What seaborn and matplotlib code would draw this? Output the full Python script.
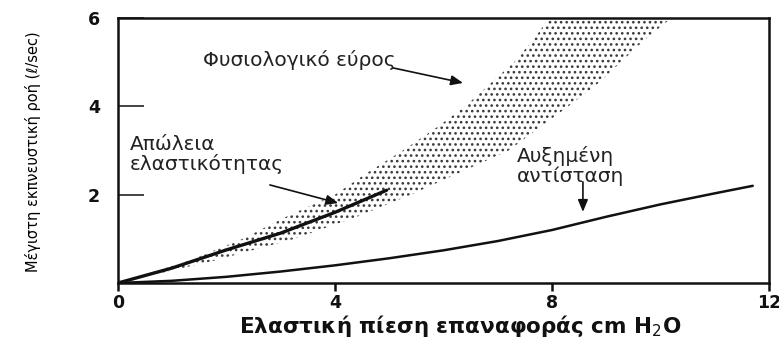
import matplotlib
matplotlib.use("Agg")
import matplotlib.pyplot as plt
import seaborn as sns
import pandas as pd

# Physiological range band: left and right edges (x) at each flow level (y)
band_y = [0, 0.5, 1.0, 1.5, 2.0, 2.5, 3.0, 3.5, 4.0, 4.5, 5.0, 5.5, 6.0]
band_left_x = [0, 1.3, 2.3, 3.1, 4.0, 4.6, 5.25, 5.85, 6.4, 6.85, 7.3, 7.65, 7.95]
band_right_x = [0, 1.75, 3.25, 4.4, 5.4, 6.3, 7.2, 7.75, 8.3, 8.83, 9.27, 9.7, 10.2]

# Loss of elasticity curve
elastic_x = [0, 1, 2, 3, 4, 4.95]
elastic_y = [0, 0.34, 0.75, 1.13, 1.6, 2.1]

# Increased resistance curve
resist_x = [0, 1, 2, 3, 4, 5, 6, 7, 8, 9, 10, 11, 11.7]
resist_y = [0, 0.05, 0.14, 0.26, 0.4, 0.56, 0.74, 0.95, 1.2, 1.5, 1.78, 2.03, 2.2]

x_ticks = [0, 4, 8, 12]
y_ticks = [2, 4, 6]

sns.set_theme(style="white")
plt.rcParams["font.family"] = ["DejaVu Sans"]
plt.rcParams["hatch.linewidth"] = 1.1

fig = plt.figure(figsize=(7.79, 3.40), dpi=100)
ax = fig.add_axes([118 / 779, 57 / 340, 651 / 779, 265 / 340])

ink = "#111111"

# dotted band
ax.fill_betweenx(band_y, band_left_x, band_right_x, facecolor="none",
                 edgecolor="#3a3a3a", hatch="...", linewidth=0)

elastic = pd.DataFrame({"x": elastic_x, "y": elastic_y})
resist = pd.DataFrame({"x": resist_x, "y": resist_y})
sns.lineplot(data=elastic, x="x", y="y", ax=ax, color=ink, linewidth=2.4)
sns.lineplot(data=resist, x="x", y="y", ax=ax, color=ink, linewidth=1.8)

ax.set_xlim(0, 12)
ax.set_ylim(0, 6)
ax.set_xticks(x_ticks)
ax.set_xticklabels([str(v) for v in x_ticks])
ax.set_yticks(y_ticks)
ax.set_yticklabels([str(v) for v in y_ticks])

for side in ["left", "right", "top", "bottom"]:
    ax.spines[side].set_color(ink)
    ax.spines[side].set_linewidth(1.8)
    ax.spines[side].set_visible(True)

ax.tick_params(axis="x", direction="out", length=6, width=1.8, color=ink,
               pad=2, labelsize=12.5, labelcolor=ink, bottom=True)
ax.tick_params(axis="y", direction="in", length=19, width=1.1, color=ink,
               pad=13, labelsize=12.5, labelcolor=ink, left=True)
for lbl in ax.get_xticklabels() + ax.get_yticklabels():
    lbl.set_fontweight("bold")

ax.set_xlabel("Ελαστική πίεση επαναφοράς cm H$_2$O", fontsize=15.5,
              fontweight="bold", color=ink)
ax.xaxis.set_label_coords(0.525, -0.115)
ax.set_ylabel("Μέγιστη εκπνευστική ροή (ℓ/sec)", fontsize=10.5,
              family=["DejaVu Sans"], color="#000000")
ax.yaxis.set_label_coords(-0.118, 0.494)

txt_kw = dict(fontsize=14.5, color="#222222", linespacing=1.0)
ax.text(3.35, 5.05, "Φυσιολογικό εύρος", ha="center", va="center", **txt_kw)
ax.text(0.22, 2.9, "Απώλεια\nελαστικότητας", ha="left", va="center", **txt_kw)
ax.text(7.35, 2.65, "Αυξημένη\nαντίσταση", ha="left", va="center", **txt_kw)

arrow_kw = dict(arrowstyle="-|>,head_length=0.6,head_width=0.25",
                color=ink, lw=1.2, shrinkA=0, shrinkB=0)
ax.annotate("", xy=(6.36, 4.53), xytext=(5.07, 4.87), arrowprops=arrow_kw)
ax.annotate("", xy=(4.06, 1.81), xytext=(2.80, 2.22), arrowprops=arrow_kw)
ax.annotate("", xy=(8.57, 1.61), xytext=(8.57, 2.29), arrowprops=arrow_kw)

fig.savefig("out.png", dpi=100)
